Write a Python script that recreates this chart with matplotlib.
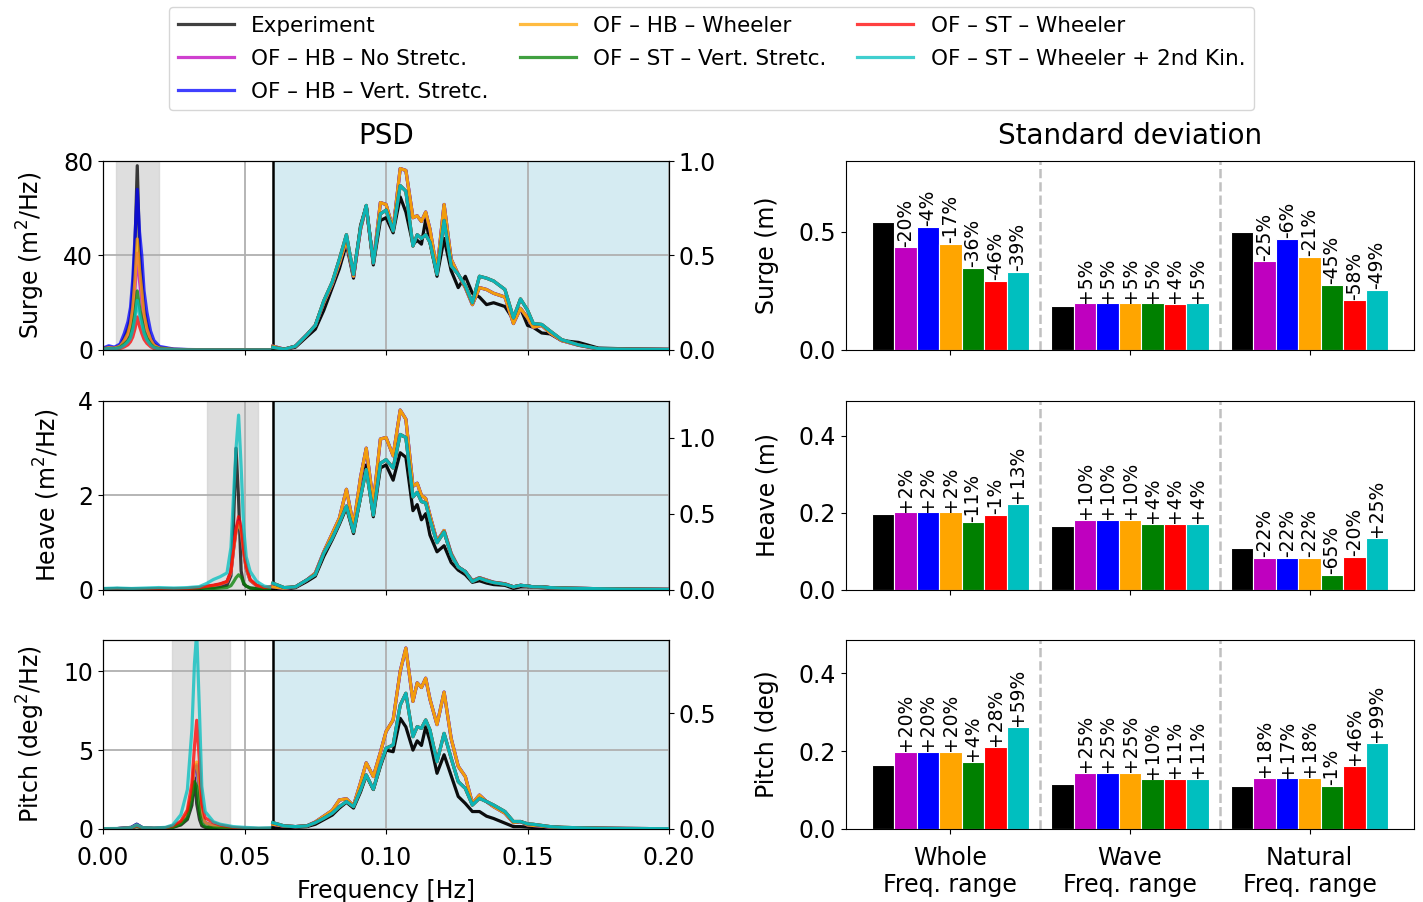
import numpy as np
import matplotlib.pyplot as plt

# ---- series ----
series_names = ['Experiment', 'OF – HB – No Stretc.', 'OF – HB – Vert. Stretc.',
                'OF – HB – Wheeler', 'OF – ST – Vert. Stretc.', 'OF – ST – Wheeler',
                'OF – ST – Wheeler + 2nd Kin.']
series_colors = ['k', 'm', 'b', 'orange', 'g', 'r', 'c']
range_labels = ['Whole\nFreq. range', 'Wave\nFreq. range', 'Natural\nFreq. range']

# ---- PSD, wave frequency range (right axis) ----
freq_wave = [0.060, 0.064, 0.068, 0.072, 0.075, 0.078, 0.081, 0.0835, 0.086, 0.0885,
             0.091, 0.093, 0.0955, 0.098, 0.100, 0.1025, 0.105, 0.107, 0.1095, 0.111,
             0.1125, 0.114, 0.1155, 0.118, 0.1205, 0.123, 0.1255, 0.128, 0.1305, 0.133,
             0.1355, 0.138, 0.142, 0.145, 0.1475, 0.150, 0.152, 0.155, 0.158, 0.162,
             0.168, 0.175, 0.185, 0.200]

surge_wave_exp = [0.01, 0.003, 0.015, 0.07, 0.11, 0.21, 0.33, 0.43, 0.56, 0.38,
                  0.66, 0.76, 0.45, 0.685, 0.70, 0.62, 0.81, 0.73, 0.56, 0.58,
                  0.56, 0.69, 0.57, 0.39, 0.59, 0.42, 0.33, 0.39, 0.30, 0.28,
                  0.24, 0.25, 0.23, 0.16, 0.22, 0.13, 0.12, 0.09, 0.085, 0.05,
                  0.04, 0.01, 0.006, 0.002]
surge_wave_hb = [0.02, 0.004, 0.02, 0.08, 0.13, 0.25, 0.35, 0.46, 0.58, 0.39,
                 0.64, 0.76, 0.46, 0.78, 0.77, 0.64, 0.96, 0.95, 0.70, 0.71,
                 0.68, 0.73, 0.64, 0.42, 0.77, 0.48, 0.40, 0.33, 0.24, 0.33,
                 0.32, 0.30, 0.28, 0.14, 0.22, 0.17, 0.12, 0.13, 0.09, 0.05,
                 0.025, 0.006, 0.004, 0.003]
surge_wave_st = [0.014, 0.004, 0.02, 0.08, 0.13, 0.26, 0.36, 0.48, 0.61, 0.40,
                 0.65, 0.765, 0.46, 0.72, 0.74, 0.63, 0.87, 0.84, 0.55, 0.61,
                 0.59, 0.61, 0.57, 0.40, 0.685, 0.445, 0.40, 0.34, 0.25, 0.39,
                 0.38, 0.365, 0.32, 0.17, 0.27, 0.21, 0.14, 0.135, 0.10, 0.055,
                 0.027, 0.007, 0.004, 0.003]

heave_wave_exp = [0.005, 0.005, 0.015, 0.055, 0.09, 0.22, 0.33, 0.43, 0.54, 0.37,
                  0.61, 0.82, 0.48, 0.80, 0.82, 0.72, 0.90, 0.87, 0.52, 0.56,
                  0.46, 0.50, 0.36, 0.25, 0.29, 0.18, 0.13, 0.10, 0.05, 0.06,
                  0.045, 0.035, 0.03, 0.01, 0.02, 0.02, 0.018, 0.015, 0.012, 0.01,
                  0.008, 0.006, 0.004, 0.003]
heave_wave_hb = [0.02, 0.01, 0.02, 0.065, 0.11, 0.25, 0.37, 0.47, 0.66, 0.42,
                 0.74, 0.93, 0.57, 0.99, 1.0, 0.88, 1.18, 1.12, 0.68, 0.70,
                 0.62, 0.60, 0.49, 0.32, 0.39, 0.24, 0.15, 0.12, 0.06, 0.08,
                 0.065, 0.05, 0.04, 0.02, 0.03, 0.025, 0.02, 0.02, 0.015, 0.012,
                 0.01, 0.008, 0.005, 0.003]
heave_wave_st = [0.044, 0.015, 0.02, 0.065, 0.10, 0.24, 0.34, 0.44, 0.55, 0.38,
                 0.61, 0.79, 0.49, 0.83, 0.855, 0.80, 1.02, 1.0, 0.61, 0.64,
                 0.58, 0.57, 0.46, 0.31, 0.38, 0.23, 0.15, 0.12, 0.055, 0.077,
                 0.06, 0.048, 0.037, 0.02, 0.03, 0.026, 0.02, 0.02, 0.015, 0.012,
                 0.01, 0.008, 0.005, 0.003]

pitch_wave_exp = [0.005, 0.005, 0.007, 0.01, 0.02, 0.04, 0.06, 0.09, 0.115, 0.09,
                  0.16, 0.23, 0.17, 0.27, 0.34, 0.333, 0.477, 0.44, 0.34, 0.38,
                  0.36, 0.44, 0.38, 0.24, 0.32, 0.23, 0.14, 0.11, 0.075, 0.075,
                  0.055, 0.045, 0.025, 0.01, 0.01, 0.008, 0.006, 0.005, 0.004, 0.003,
                  0.002, 0.002, 0.001, 0.001]
pitch_wave_hb = [0.02, 0.012, 0.01, 0.013, 0.03, 0.055, 0.08, 0.125, 0.13, 0.10,
                 0.20, 0.285, 0.226, 0.33, 0.42, 0.47, 0.68, 0.78, 0.55, 0.63,
                 0.61, 0.65, 0.56, 0.45, 0.59, 0.39, 0.27, 0.226, 0.11, 0.146,
                 0.118, 0.096, 0.068, 0.027, 0.032, 0.017, 0.015, 0.012, 0.008, 0.006,
                 0.004, 0.003, 0.002, 0.001]
pitch_wave_st = [0.027, 0.013, 0.01, 0.013, 0.027, 0.046, 0.068, 0.096, 0.118, 0.096,
                 0.168, 0.233, 0.171, 0.276, 0.348, 0.362, 0.534, 0.585, 0.398, 0.441,
                 0.434, 0.47, 0.427, 0.29, 0.412, 0.305, 0.204, 0.175, 0.103, 0.132,
                 0.118, 0.103, 0.075, 0.032, 0.032, 0.022, 0.02, 0.015, 0.01, 0.007,
                 0.005, 0.003, 0.002, 0.001]

# ---- PSD, low frequency range (left axis) ----
surge_low_freq = [0, 0.002, 0.004, 0.006, 0.0075, 0.0088, 0.0097, 0.0105, 0.0113, 0.0121,
                  0.0129, 0.0137, 0.0145, 0.0155, 0.0168, 0.018, 0.02, 0.025, 0.03, 0.04,
                  0.05, 0.06]
surge_low_exp = [0.6, 1.2, 0.9, 1.8, 5, 9, 14, 24, 45, 78, 42, 30, 18, 11, 5, 2.5, 1, 0.3, 0.15, 0.05, 0.05, 0.05]
surge_low_hb_nost = [0.5, 1.0, 0.8, 1.5, 3.5, 6, 9.5, 16, 26, 41, 29, 21, 13, 8, 4, 1.8, 0.7, 0.2, 0.1, 0.05, 0.05, 0.05]
surge_low_hb_vert = [0.8, 1.8, 1.2, 2.5, 7, 12, 18, 30, 48, 68, 50, 40, 25, 16, 8, 4, 1.5, 0.4, 0.2, 0.05, 0.05, 0.05]
surge_low_hb_wheel = [0.5, 1.0, 0.8, 1.6, 4, 7, 11, 18, 30, 47, 34, 25, 15, 9, 4.5, 2, 0.8, 0.25, 0.1, 0.05, 0.05, 0.05]
surge_low_st_vert = [0.3, 0.6, 0.5, 1.0, 2.5, 4, 6, 10, 16, 25, 18, 13, 8, 5, 2.5, 1.1, 0.5, 0.15, 0.05, 0.03, 0.03, 0.03]
surge_low_st_wheel = [0.2, 0.4, 0.3, 0.6, 1.3, 2.2, 3.5, 5.5, 9, 14, 10, 7, 4.5, 2.8, 1.4, 0.6, 0.3, 0.1, 0.03, 0.02, 0.02, 0.02]
surge_low_st_2nd = [0.3, 0.6, 0.5, 0.9, 2, 3.5, 5, 8.5, 13.5, 21, 15, 11, 7, 4.2, 2.1, 1, 0.4, 0.12, 0.05, 0.03, 0.03, 0.05]

heave_low_freq = [0, 0.005, 0.01, 0.015, 0.0197, 0.025, 0.03, 0.034, 0.0367, 0.039,
                  0.0414, 0.0438, 0.0452, 0.0461, 0.047, 0.0479, 0.0488, 0.0497, 0.0506, 0.052,
                  0.0543, 0.057, 0.06]
heave_low_exp = [0.02, 0.03, 0.02, 0.02, 0.03, 0.02, 0.02, 0.03, 0.05, 0.05, 0.07, 0.1, 0.3, 1.4, 3.0, 1.9, 0.4, 0.12, 0.08, 0.04, 0.03, 0.02, 0.02]
heave_low_hb_nost = [0.01, 0.01, 0.01, 0.01, 0.02, 0.02, 0.03, 0.05, 0.07, 0.09, 0.12, 0.17, 0.37, 0.85, 1.25, 1.45, 1.25, 0.8, 0.45, 0.2, 0.09, 0.05, 0.05]
heave_low_hb_vert = [0.01, 0.01, 0.01, 0.01, 0.02, 0.02, 0.03, 0.05, 0.07, 0.09, 0.12, 0.17, 0.38, 0.86, 1.27, 1.47, 1.27, 0.8, 0.45, 0.2, 0.09, 0.05, 0.05]
heave_low_hb_wheel = [0.01, 0.01, 0.01, 0.01, 0.02, 0.02, 0.03, 0.05, 0.07, 0.09, 0.12, 0.17, 0.37, 0.84, 1.24, 1.44, 1.24, 0.79, 0.45, 0.2, 0.09, 0.05, 0.05]
heave_low_st_vert = [0.01, 0.01, 0.01, 0.01, 0.01, 0.01, 0.01, 0.01, 0.02, 0.03, 0.04, 0.05, 0.09, 0.17, 0.26, 0.32, 0.27, 0.15, 0.08, 0.04, 0.02, 0.01, 0.01]
heave_low_st_wheel = [0.01, 0.01, 0.01, 0.01, 0.02, 0.02, 0.03, 0.05, 0.08, 0.1, 0.13, 0.18, 0.4, 0.9, 1.3, 1.55, 1.35, 0.85, 0.5, 0.22, 0.1, 0.05, 0.08]
heave_low_st_2nd = [0.03, 0.04, 0.03, 0.04, 0.05, 0.04, 0.05, 0.07, 0.14, 0.22, 0.28, 0.36, 0.9, 2.0, 3.0, 3.7, 2.6, 1.3, 0.7, 0.39, 0.18, 0.08, 0.05]

pitch_low_freq = [0, 0.005, 0.01, 0.0119, 0.014, 0.018, 0.022, 0.0246, 0.0275, 0.0298,
                  0.0314, 0.0323, 0.0331, 0.0341, 0.0349, 0.0361, 0.039, 0.0414, 0.046, 0.05,
                  0.055, 0.06]
pitch_low_exp = [0.01, 0.02, 0.1, 0.3, 0.08, 0.03, 0.05, 0.1, 0.25, 0.6, 1.5, 3.25, 1.6, 0.6, 0.2, 0.1, 0.05, 0.04, 0.02, 0.02, 0.01, 0.01]
pitch_low_hb_nost = [0.01, 0.02, 0.08, 0.25, 0.06, 0.04, 0.06, 0.15, 0.4, 0.9, 2.2, 3.9, 4.1, 2.5, 0.9, 0.4, 0.2, 0.12, 0.05, 0.03, 0.02, 0.02]
pitch_low_hb_vert = [0.01, 0.02, 0.1, 0.3, 0.07, 0.04, 0.06, 0.15, 0.4, 0.9, 2.2, 3.8, 4.0, 2.4, 0.9, 0.4, 0.2, 0.12, 0.05, 0.03, 0.02, 0.02]
pitch_low_hb_wheel = [0.01, 0.02, 0.08, 0.25, 0.06, 0.04, 0.06, 0.15, 0.4, 1.0, 2.3, 4.0, 4.25, 2.6, 0.9, 0.4, 0.2, 0.12, 0.05, 0.03, 0.02, 0.02]
pitch_low_st_vert = [0.01, 0.01, 0.05, 0.15, 0.05, 0.03, 0.05, 0.1, 0.3, 0.7, 1.8, 3.0, 2.7, 1.0, 0.35, 0.15, 0.06, 0.04, 0.02, 0.02, 0.01, 0.01]
pitch_low_st_wheel = [0.01, 0.02, 0.06, 0.2, 0.06, 0.04, 0.07, 0.2, 0.5, 1.2, 2.9, 5.2, 6.9, 4.2, 1.6, 0.7, 0.4, 0.25, 0.1, 0.05, 0.03, 0.05]
pitch_low_st_2nd = [0.02, 0.03, 0.08, 0.25, 0.08, 0.06, 0.1, 0.25, 0.9, 2.5, 6.3, 10.5, 12.5, 7.3, 2.7, 1.1, 0.46, 0.3, 0.15, 0.1, 0.06, 0.08]

# natural frequency bands (grey)
surge_band = (0.0045, 0.0198)
heave_band = (0.0367, 0.0548)
pitch_band = (0.0244, 0.0449)

# ---- standard deviations ----
surge_std_whole = [0.542, 0.434, 0.520, 0.450, 0.347, 0.293, 0.331]
surge_std_wave = [0.188, 0.197, 0.197, 0.197, 0.197, 0.196, 0.197]
surge_std_natural = [0.500, 0.375, 0.470, 0.395, 0.275, 0.210, 0.255]
surge_pct_whole = ['', '-20%', '-4%', '-17%', '-36%', '-46%', '-39%']
surge_pct_wave = ['', '+5%', '+5%', '+5%', '+5%', '+4%', '+5%']
surge_pct_natural = ['', '-25%', '-6%', '-21%', '-45%', '-58%', '-49%']

heave_std_whole = [0.197, 0.201, 0.201, 0.201, 0.175, 0.195, 0.223]
heave_std_wave = [0.165, 0.182, 0.182, 0.182, 0.172, 0.172, 0.172]
heave_std_natural = [0.108, 0.084, 0.084, 0.084, 0.038, 0.086, 0.135]
heave_pct_whole = ['', '+2%', '+2%', '+2%', '-11%', '-1%', '+13%']
heave_pct_wave = ['', '+10%', '+10%', '+10%', '+4%', '+4%', '+4%']
heave_pct_natural = ['', '-22%', '-22%', '-22%', '-65%', '-20%', '+25%']

pitch_std_whole = [0.165, 0.198, 0.198, 0.198, 0.172, 0.211, 0.262]
pitch_std_wave = [0.115, 0.144, 0.144, 0.144, 0.127, 0.128, 0.128]
pitch_std_natural = [0.111, 0.131, 0.130, 0.131, 0.110, 0.162, 0.221]
pitch_pct_whole = ['', '+20%', '+20%', '+20%', '+4%', '+28%', '+59%']
pitch_pct_wave = ['', '+25%', '+25%', '+25%', '+10%', '+11%', '+11%']
pitch_pct_natural = ['', '+18%', '+17%', '+18%', '-1%', '+46%', '+99%']


def plot_psd(ax, f_low, low_series, wave_series, band, ylim, ylim2, yticks, yticks2, ylabel):
    ax.axvspan(band[0], band[1], color='lightgray', alpha=0.75)
    ax.axvspan(0.06, 0.2, color='lightblue', alpha=0.5)
    ax.axvline(0.06, color='k', lw=1.8)
    for vals, c, name in zip(low_series, series_colors, series_names):
        ax.plot(f_low, vals, color=c, lw=2.3, alpha=0.75, label=name)
    ax.set_xlim(0, 0.2)
    ax.set_ylim(ylim)
    ax.set_yticks(yticks)
    ax.set_xticks([0, 0.05, 0.1, 0.15, 0.2])
    ax.grid(True, lw=1.3)
    ax.set_ylabel(ylabel, labelpad=12)
    ax2 = ax.twinx()
    for vals, c in zip(wave_series, series_colors):
        ax2.plot(freq_wave, vals, color=c, lw=2.3, alpha=0.95)
    ax2.set_ylim(ylim2)
    ax2.set_yticks(yticks2)
    return ax2


def plot_std(ax, stds, pcts, ylim, yticks, ylabel):
    offsets = (np.arange(7) - 3) * 0.125
    for g, (vals, labs) in enumerate(zip(stds, pcts)):
        for j in range(7):
            x = g + offsets[j]
            ax.bar(x, vals[j], width=0.125, color=series_colors[j], edgecolor='white', lw=0.8)
            if labs[j]:
                ax.text(x, vals[j] + 0.004 * ylim[1], labs[j], rotation=90,
                        ha='center', va='bottom', fontsize=13.5)
    for xs in [0.5, 1.5]:
        ax.axvline(xs, color='#c0c0c0', ls='--', lw=1.8)
    ax.set_ylim(ylim)
    ax.set_yticks(yticks)
    ax.set_xticks([0, 1, 2])
    ax.set_ylabel(ylabel, labelpad=14)


plt.rcParams['font.size'] = 17
plt.rcParams['axes.labelsize'] = 17
plt.rcParams['xtick.major.pad'] = 8.5

fig = plt.figure(figsize=(14.23, 9.02), dpi=100)

rows_bottom = [0.612, 0.346, 0.081]
row_h = 0.2095
left_x, left_w = 0.0724, 0.3978
right_x, right_w = 0.5945, 0.3992

ax_s = fig.add_axes([left_x, rows_bottom[0], left_w, row_h])
ax_h = fig.add_axes([left_x, rows_bottom[1], left_w, row_h])
ax_p = fig.add_axes([left_x, rows_bottom[2], left_w, row_h])

plot_psd(ax_s, surge_low_freq,
         [surge_low_exp, surge_low_hb_nost, surge_low_hb_vert, surge_low_hb_wheel,
          surge_low_st_vert, surge_low_st_wheel, surge_low_st_2nd],
         [surge_wave_exp, surge_wave_hb, surge_wave_hb, surge_wave_hb,
          surge_wave_st, surge_wave_st, surge_wave_st],
         surge_band, (0, 80), (0, 1.0), [0, 40, 80], [0.0, 0.5, 1.0], 'Surge (m$^2$/Hz)')
plot_psd(ax_h, heave_low_freq,
         [heave_low_exp, heave_low_hb_nost, heave_low_hb_vert, heave_low_hb_wheel,
          heave_low_st_vert, heave_low_st_wheel, heave_low_st_2nd],
         [heave_wave_exp, heave_wave_hb, heave_wave_hb, heave_wave_hb,
          heave_wave_st, heave_wave_st, heave_wave_st],
         heave_band, (0, 4), (0, 1.24), [0, 2, 4], [0.0, 0.5, 1.0], 'Heave (m$^2$/Hz)')
plot_psd(ax_p, pitch_low_freq,
         [pitch_low_exp, pitch_low_hb_nost, pitch_low_hb_vert, pitch_low_hb_wheel,
          pitch_low_st_vert, pitch_low_st_wheel, pitch_low_st_2nd],
         [pitch_wave_exp, pitch_wave_hb, pitch_wave_hb, pitch_wave_hb,
          pitch_wave_st, pitch_wave_st, pitch_wave_st],
         pitch_band, (0, 12), (0, 0.815), [0, 5, 10], [0.0, 0.5], 'Pitch (deg$^2$/Hz)')
ax_s.set_xticklabels([])
ax_h.set_xticklabels([])
ax_p.set_xlabel('Frequency [Hz]', labelpad=7)
ax_s.set_title('PSD', fontsize=20, pad=12)

bx_s = fig.add_axes([right_x, rows_bottom[0], right_w, row_h])
bx_h = fig.add_axes([right_x, rows_bottom[1], right_w, row_h])
bx_p = fig.add_axes([right_x, rows_bottom[2], right_w, row_h])
plot_std(bx_s, [surge_std_whole, surge_std_wave, surge_std_natural],
         [surge_pct_whole, surge_pct_wave, surge_pct_natural], (0, 0.8), [0.0, 0.5], 'Surge (m)')
plot_std(bx_h, [heave_std_whole, heave_std_wave, heave_std_natural],
         [heave_pct_whole, heave_pct_wave, heave_pct_natural], (0, 0.49), [0.0, 0.2, 0.4], 'Heave (m)')
plot_std(bx_p, [pitch_std_whole, pitch_std_wave, pitch_std_natural],
         [pitch_pct_whole, pitch_pct_wave, pitch_pct_natural], (0, 0.485), [0.0, 0.2, 0.4], 'Pitch (deg)')
bx_s.set_xticklabels([])
bx_h.set_xticklabels([])
bx_p.set_xticklabels(range_labels)
bx_s.set_title('Standard deviation', fontsize=20, pad=12)

handles, labels = ax_s.get_legend_handles_labels()
fig.legend(handles, labels, loc='upper center', bbox_to_anchor=(0.5, 1.004), ncol=3,
           fontsize=15.5, handlelength=2.6, columnspacing=1.45, labelspacing=0.6)

fig.savefig('out.png', dpi=100)
